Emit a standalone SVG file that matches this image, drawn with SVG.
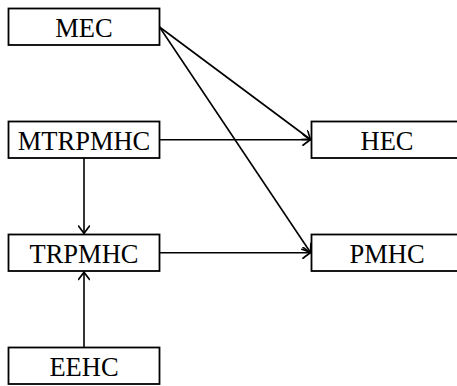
<svg xmlns="http://www.w3.org/2000/svg" width="457" height="386" viewBox="0 0 457 386">
<defs>
<style>
.box{fill:#fff;stroke:#000;stroke-width:1.8}
.lbl{font-family:"Liberation Serif","Times New Roman",serif;font-size:26.5px;text-anchor:middle;fill:#000}
.edge{fill:none;stroke:#000;stroke-width:1.6}
</style>
<marker id="arr" markerUnits="userSpaceOnUse" viewBox="-10 -6 12 12" refX="0" refY="0" markerWidth="12" markerHeight="12" orient="auto">
<path d="M-7.5,-5.5 Q-2,-1.3 0,0 Q-2,1.3 -7.5,5.5" fill="none" stroke="#000" stroke-width="1.6" stroke-linecap="round"/>
</marker>
</defs>
<rect width="457" height="386" fill="#fff"/>
<g id="connectors">
<line class="edge" x1="159.5" y1="27" x2="310.5" y2="139.5" marker-end="url(#arr)"/>
<line class="edge" x1="159.5" y1="27" x2="310.5" y2="252.5" marker-end="url(#arr)"/>
<line class="edge" x1="159.5" y1="139.75" x2="310.5" y2="139.75" marker-end="url(#arr)"/>
<line class="edge" x1="159.5" y1="252.75" x2="310.5" y2="252.75" marker-end="url(#arr)"/>
<line class="edge" x1="84" y1="158" x2="84" y2="233.5" marker-end="url(#arr)"/>
<line class="edge" x1="84" y1="347.5" x2="84" y2="272" marker-end="url(#arr)"/>
</g>
<g id="MEC"><rect class="box" x="8.5" y="8.5" width="151" height="36.5"/><text class="lbl" x="84" y="36.5">MEC</text></g>
<g id="MTRPMHC"><rect class="box" x="8.5" y="121.5" width="151" height="36.5"/><text class="lbl" x="84" y="149.5">MTRPMHC</text></g>
<g id="TRPMHC"><rect class="box" x="8.5" y="234.5" width="151" height="36.5"/><text class="lbl" x="84" y="262.5">TRPMHC</text></g>
<g id="EEHC"><rect class="box" x="8.5" y="347.5" width="151" height="36.5"/><text class="lbl" x="84" y="375.5">EEHC</text></g>
<g id="HEC"><rect class="box" x="311.5" y="121.5" width="151" height="36.5"/><text class="lbl" x="387" y="149.5">HEC</text></g>
<g id="PMHC"><rect class="box" x="311.5" y="234.5" width="151" height="36.5"/><text class="lbl" x="387" y="262.5">PMHC</text></g>
</svg>
